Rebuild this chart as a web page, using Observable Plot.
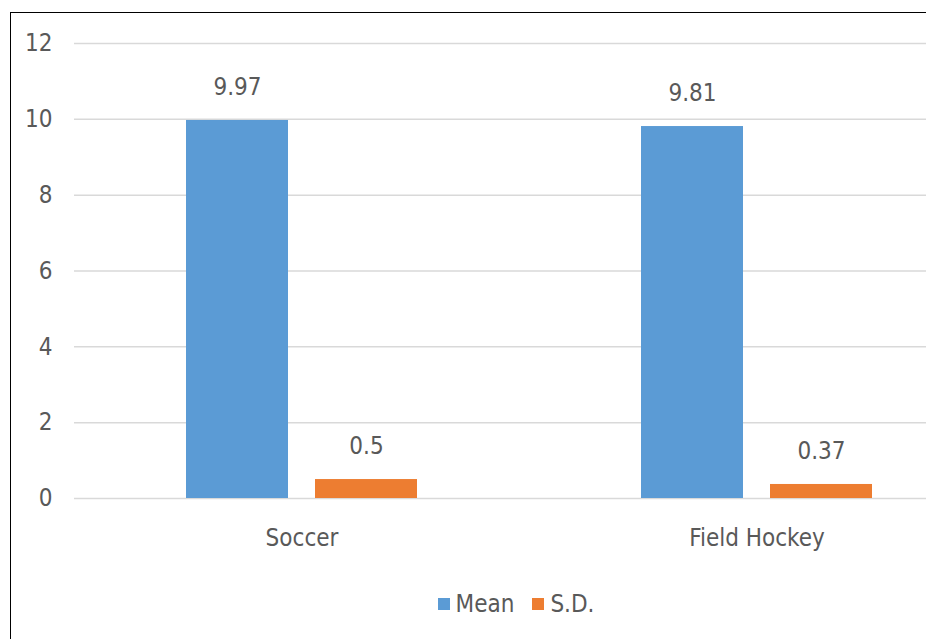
<!DOCTYPE html>
<html>
<head>
<meta charset="utf-8">
<script src="https://cdn.jsdelivr.net/npm/d3@7"></script>
<script src="https://cdn.jsdelivr.net/npm/@observablehq/plot@0.6"></script>
<style>
  html, body { margin: 0; padding: 0; background: #fff; overflow: hidden; }
  #wrap { position: relative; width: 926px; height: 639px; overflow: hidden; background: #fff; }
  #frame { position: absolute; left: 10px; top: 12px; width: 1200px; height: 1000px;
           border-top: 1.5px solid #000; border-left: 1.5px solid #000; box-sizing: border-box; }
  #chart { position: absolute; left: 0; top: 0; width: 1000px; }
  #chart svg { max-width: none !important; width: 1000px !important; height: 560px !important; }
  #legend { position: absolute; left: 0; top: 588px; width: 1032px; text-align: center;
            font-family: "Liberation Sans Narrow", "DejaVu Sans Condensed", sans-serif; font-size: 24px; color: #595959; }
  #legend span.item { display: inline-flex; align-items: center; margin: 0 9px; }
  #legend span.sw { display: inline-block; width: 12px; height: 12px; margin-right: 6px; }
</style>
</head>
<body>
<div id="wrap">
  <div id="frame"></div>
  <div id="chart"></div>
  <div id="legend"></div>
</div>
<script>
const categories = ["Soccer", "Field Hockey"];
const seriesNames = ["Mean", "S.D."];
const meanValues = [9.97, 9.81];
const sdValues = [0.5, 0.37];
const yTicks = [0, 2, 4, 6, 8, 10, 12];
const colors = ["#5B9BD5", "#ED7D31"];

const data = [];
categories.forEach((c, i) => {
  data.push({cat: c, series: "Mean", value: meanValues[i]});
  data.push({cat: c, series: "S.D.", value: sdValues[i]});
});

const font = '"Liberation Sans Narrow", "DejaVu Sans Condensed", sans-serif';

const chart = Plot.plot({
  width: 1000,
  height: 560,
  marginLeft: 74,
  marginRight: 16,
  marginTop: 43,
  marginBottom: 62,
  style: {fontFamily: font, fontSize: "24px", color: "#595959", background: "transparent", maxWidth: "none"},
  fx: {domain: categories, padding: 0, label: null},
  x: {domain: seriesNames, paddingInner: 0.2077, paddingOuter: 0.854, axis: null},
  y: {domain: [0, 12], label: null},
  color: {domain: seriesNames, range: colors},
  marks: [
    Plot.ruleY(yTicks, {stroke: "#d9d9d9", strokeWidth: 1.5}),
    Plot.barY(data, {fx: "cat", x: "series", y: "value", fill: "series"}),
    Plot.text(data, {fx: "cat", x: "series", y: "value", text: d => String(d.value), dy: -33,
                     fill: "#595959", fontSize: 24}),
    Plot.axisY({ticks: yTicks, tickSize: 0, tickPadding: 22, label: null, fontSize: 24}),
    Plot.axisFx({anchor: "bottom", tickSize: 0, tickPadding: 30, label: null, fontSize: 24})
  ]
});
document.getElementById("chart").appendChild(chart);

const legend = document.getElementById("legend");
seriesNames.forEach((s, i) => {
  const item = document.createElement("span");
  item.className = "item";
  const sw = document.createElement("span");
  sw.className = "sw";
  sw.style.background = colors[i];
  item.appendChild(sw);
  item.appendChild(document.createTextNode(s));
  legend.appendChild(item);
});
</script>
</body>
</html>
